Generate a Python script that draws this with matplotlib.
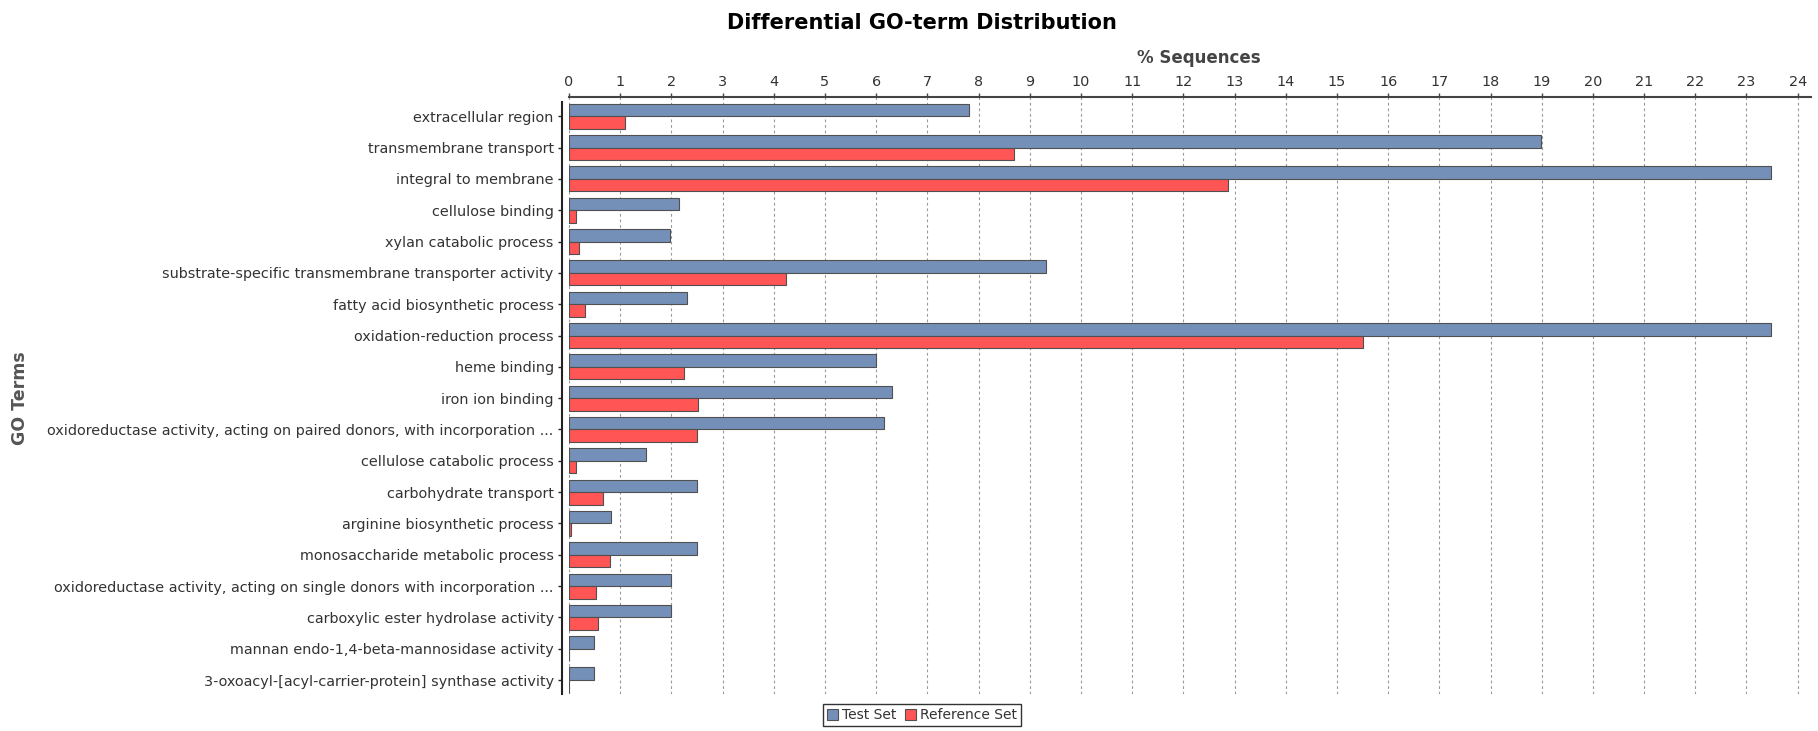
import matplotlib
matplotlib.use('Agg')
import matplotlib.pyplot as plt
import numpy as np

categories = [
    "extracellular region",
    "transmembrane transport",
    "integral to membrane",
    "cellulose binding",
    "xylan catabolic process",
    "substrate-specific transmembrane transporter activity",
    "fatty acid biosynthetic process",
    "oxidation-reduction process",
    "heme binding",
    "iron ion binding",
    "oxidoreductase activity, acting on paired donors, with incorporation ...",
    "cellulose catabolic process",
    "carbohydrate transport",
    "arginine biosynthetic process",
    "monosaccharide metabolic process",
    "oxidoreductase activity, acting on single donors with incorporation ...",
    "carboxylic ester hydrolase activity",
    "mannan endo-1,4-beta-mannosidase activity",
    "3-oxoacyl-[acyl-carrier-protein] synthase activity",
]
test_set = [7.82, 18.98, 23.47, 2.15, 1.98, 9.31, 2.31, 23.47, 5.99, 6.31,
            6.15, 1.50, 2.50, 0.83, 2.50, 2.00, 2.00, 0.49, 0.49]
reference_set = [1.10, 8.69, 12.87, 0.14, 0.19, 4.23, 0.32, 15.51, 2.24, 2.52,
                 2.50, 0.14, 0.67, 0.03, 0.81, 0.53, 0.56, 0.0, 0.0]
x_ticks = list(range(0, 25))

W, H = 1818, 731
fig = plt.figure(figsize=(W / 100, H / 100), dpi=100)
ax = fig.add_axes([569 / W, 1 - 694 / H, 1242 / W, 597 / H])

y = np.arange(len(categories))
h = 0.4
b1 = ax.barh(y - h / 2, test_set, height=h, color='#7490B8', edgecolor='#505050',
             linewidth=0.8, label='Test Set', zorder=3)
b2 = ax.barh(y + h / 2, reference_set, height=h, color='#FF5555', edgecolor='#505050',
             linewidth=0.8, label='Reference Set', zorder=3)

ax.set_xlim(0, 24.26)
ax.set_ylim(18.447, -0.616)
ax.xaxis.tick_top()
ax.set_xticks(x_ticks)
ax.set_xticklabels([str(t) for t in x_ticks])
ax.set_yticks(y)
ax.set_yticklabels(categories)

ax.grid(axis='x', linestyle=(0, (2.5, 2.5)), color='#9a9a9a', linewidth=0.8, zorder=0)
ax.set_axisbelow(True)

for s in ['bottom', 'right']:
    ax.spines[s].set_visible(False)
ax.spines['top'].set_color('#444444')
ax.spines['top'].set_linewidth(1.5)
ax.spines['left'].set_position(('outward', 5))
ax.spines['left'].set_color('#222222')
ax.spines['left'].set_linewidth(1.5)
ax.spines['left'].set_bounds(18.447, -0.45)

ax.tick_params(axis='x', direction='out', length=3, width=1, pad=3,
               labelsize=10.4, colors='#444444', labelcolor='#333333')
ax.tick_params(axis='y', direction='out', length=3, width=1, pad=3,
               labelsize=10.35, colors='#222222', labelcolor='#333333')

fig.text(922 / W, 1 - 23 / H, 'Differential GO-term Distribution', ha='center', va='center',
         fontsize=15, fontweight='bold', color='black')
fig.text(1199 / W, 1 - 58 / H, '% Sequences', ha='center', va='center',
         fontsize=12, fontweight='bold', color='#444444')
fig.text(20 / W, 1 - 398 / H, 'GO Terms', ha='center', va='center', rotation=90,
         fontsize=12.5, fontweight='bold', color='#555555')

leg = fig.legend(handles=[b1, b2], loc='upper center', bbox_to_anchor=(922 / W, 1 - 704 / H),
                 ncol=2, frameon=True, fancybox=False, edgecolor='black', fontsize=10,
                 handlelength=0.8, handleheight=0.8, handletextpad=0.3, columnspacing=0.6,
                 borderpad=0.3, borderaxespad=0)
leg.get_frame().set_linewidth(1)
for t in leg.get_texts():
    t.set_color('#333333')

fig.savefig('out.png', dpi=100)
